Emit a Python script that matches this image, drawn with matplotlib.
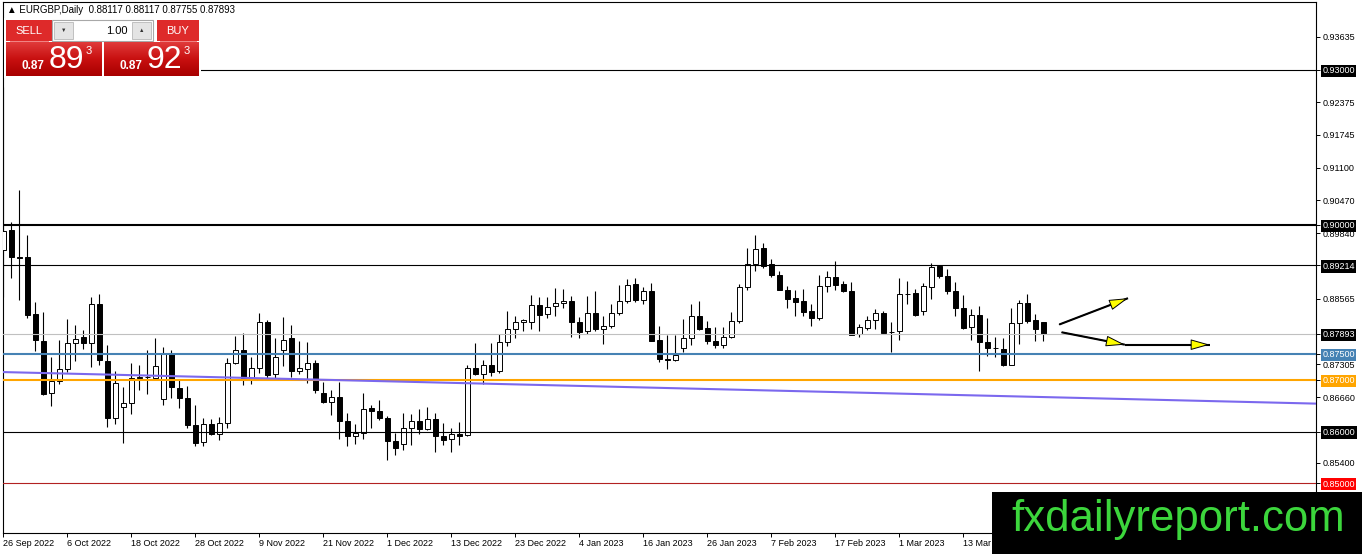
import numpy as np
import matplotlib.pyplot as plt
from matplotlib.patches import Rectangle, FancyArrowPatch
from matplotlib.colors import LinearSegmentedColormap

plt.rcParams['font.family'] = ['Liberation Sans', 'DejaVu Sans']

# daily candles EURGBP, 26 Sep 2022 .. late Mar 2023
opens = [0.8951, 0.8989, 0.8938, 0.8937, 0.8828, 0.8775, 0.8675, 0.8698, 0.8720, 0.8771,
         0.8783, 0.8771, 0.8846, 0.8737, 0.8627, 0.8648, 0.8656, 0.8704, 0.8705, 0.8704,
         0.8662, 0.8751, 0.8685, 0.8665, 0.8613, 0.8580, 0.8614, 0.8596, 0.8617, 0.8733,
         0.8758, 0.8704, 0.8722, 0.8812, 0.8711, 0.8758, 0.8781, 0.8717, 0.8721, 0.8733,
         0.8675, 0.8658, 0.8666, 0.8621, 0.8592, 0.8598, 0.8645, 0.8640, 0.8627, 0.8582,
         0.8576, 0.8607, 0.8621, 0.8605, 0.8625, 0.8592, 0.8585, 0.8596, 0.8594, 0.8723,
         0.8711, 0.8728, 0.8717, 0.8773, 0.8798, 0.8812, 0.8812, 0.8845, 0.8828, 0.8843,
         0.8848, 0.8852, 0.8812, 0.8794, 0.8830, 0.8799, 0.8805, 0.8829, 0.8853, 0.8886,
         0.8855, 0.8871, 0.8778, 0.8740, 0.8738, 0.8762, 0.8781, 0.8824, 0.8800, 0.8776,
         0.8768, 0.8783, 0.8814, 0.8879, 0.8924, 0.8956, 0.8924, 0.8903, 0.8874, 0.8859,
         0.8852, 0.8834, 0.8819, 0.8881, 0.8898, 0.8886, 0.8871, 0.8788, 0.8801, 0.8816,
         0.8830, 0.8793, 0.8794, 0.8866, 0.8868, 0.8834, 0.8879, 0.8920, 0.8900, 0.8871,
         0.8839, 0.8802, 0.8826, 0.8773, 0.8762, 0.8760, 0.8729, 0.8810, 0.8849, 0.8815,
         0.88117]
highs = [0.9267, 0.9006, 0.9067, 0.8980, 0.8850, 0.8831, 0.8744, 0.8778, 0.8818, 0.8807,
         0.8796, 0.8860, 0.8866, 0.8767, 0.8717, 0.8686, 0.8732, 0.8729, 0.8758, 0.8781,
         0.8764, 0.8758, 0.8700, 0.8688, 0.8651, 0.8627, 0.8624, 0.8629, 0.8742, 0.8785,
         0.8791, 0.8744, 0.8830, 0.8816, 0.8780, 0.8821, 0.8807, 0.8775, 0.8773, 0.8739,
         0.8696, 0.8681, 0.8696, 0.8635, 0.8614, 0.8675, 0.8652, 0.8660, 0.8630, 0.8598,
         0.8635, 0.8633, 0.8643, 0.8647, 0.8636, 0.8616, 0.8606, 0.8618, 0.8729, 0.8772,
         0.8738, 0.8771, 0.8789, 0.8834, 0.8823, 0.8818, 0.8864, 0.8860, 0.8860, 0.8877,
         0.8876, 0.8862, 0.8821, 0.8862, 0.8871, 0.8823, 0.8847, 0.8884, 0.8895, 0.8897,
         0.8879, 0.8887, 0.8805, 0.8787, 0.8787, 0.8817, 0.8847, 0.8852, 0.8814, 0.8803,
         0.8802, 0.8831, 0.8886, 0.8956, 0.8980, 0.8965, 0.8934, 0.8910, 0.8881, 0.8873,
         0.8876, 0.8847, 0.8903, 0.8911, 0.8930, 0.8892, 0.8889, 0.8808, 0.8823, 0.8837,
         0.8834, 0.8812, 0.8897, 0.8892, 0.8876, 0.8887, 0.8926, 0.8923, 0.8914, 0.8890,
         0.8864, 0.8837, 0.8843, 0.8819, 0.8783, 0.8780, 0.8839, 0.8855, 0.8866, 0.8828,
         0.88117]
lows = [0.8860, 0.8897, 0.8855, 0.8819, 0.8755, 0.8670, 0.8649, 0.8691, 0.8715, 0.8736,
        0.8760, 0.8725, 0.8728, 0.8609, 0.8614, 0.8577, 0.8633, 0.8680, 0.8672, 0.8700,
        0.8651, 0.8665, 0.8645, 0.8606, 0.8571, 0.8571, 0.8594, 0.8584, 0.8606, 0.8731,
        0.8690, 0.8691, 0.8714, 0.8704, 0.8704, 0.8727, 0.8706, 0.8712, 0.8693, 0.8675,
        0.8656, 0.8631, 0.8586, 0.8571, 0.8576, 0.8586, 0.8607, 0.8622, 0.8545, 0.8555,
        0.8564, 0.8574, 0.8596, 0.8603, 0.8561, 0.8573, 0.8561, 0.8574, 0.8592, 0.8709,
        0.8691, 0.8708, 0.8714, 0.8766, 0.8781, 0.8794, 0.8799, 0.8794, 0.8819, 0.8823,
        0.8839, 0.8783, 0.8781, 0.8788, 0.8794, 0.8770, 0.8801, 0.8826, 0.8849, 0.8850,
        0.8847, 0.8776, 0.8735, 0.8720, 0.8737, 0.8753, 0.8768, 0.8797, 0.8770, 0.8762,
        0.8762, 0.8780, 0.8810, 0.8873, 0.8911, 0.8916, 0.8898, 0.8873, 0.8839, 0.8823,
        0.8823, 0.8804, 0.8815, 0.8870, 0.8873, 0.8870, 0.8786, 0.8783, 0.8796, 0.8799,
        0.8789, 0.8753, 0.8778, 0.8846, 0.8824, 0.8826, 0.8857, 0.8897, 0.8866, 0.8823,
        0.8798, 0.8778, 0.8717, 0.8746, 0.8744, 0.8727, 0.8728, 0.8770, 0.8810, 0.8776,
        0.87755]
closes = [0.8988, 0.8938, 0.8936, 0.8826, 0.8778, 0.8672, 0.8698, 0.8720, 0.8771, 0.8779,
          0.8771, 0.8846, 0.8738, 0.8627, 0.8694, 0.8656, 0.8704, 0.8706, 0.8706, 0.8727,
          0.8751, 0.8686, 0.8665, 0.8613, 0.8578, 0.8614, 0.8596, 0.8617, 0.8733, 0.8758,
          0.8704, 0.8723, 0.8812, 0.8709, 0.8744, 0.8778, 0.8717, 0.8722, 0.8733, 0.8680,
          0.8658, 0.8666, 0.8620, 0.8592, 0.8598, 0.8643, 0.8640, 0.8627, 0.8582, 0.8569,
          0.8607, 0.8621, 0.8605, 0.8625, 0.8592, 0.8584, 0.8596, 0.8592, 0.8723, 0.8711,
          0.8728, 0.8715, 0.8773, 0.8798, 0.8812, 0.8815, 0.8845, 0.8826, 0.8841, 0.8849,
          0.8852, 0.8812, 0.8792, 0.8829, 0.8799, 0.8805, 0.8829, 0.8853, 0.8884, 0.8855,
          0.8871, 0.8776, 0.8740, 0.8739, 0.8749, 0.8781, 0.8824, 0.8799, 0.8775, 0.8768,
          0.8783, 0.8814, 0.8879, 0.8924, 0.8954, 0.8921, 0.8902, 0.8873, 0.8857, 0.8850,
          0.8832, 0.8819, 0.8881, 0.8898, 0.8884, 0.8871, 0.8787, 0.8802, 0.8816, 0.8829,
          0.8791, 0.8792, 0.8866, 0.8867, 0.8826, 0.8881, 0.8918, 0.8900, 0.8871, 0.8839,
          0.8801, 0.8826, 0.8773, 0.8762, 0.8761, 0.8729, 0.8810, 0.8849, 0.8813, 0.8798,
          0.87893]

date_idx = [0, 8, 16, 24, 32, 40, 48, 56, 64, 72, 80, 88, 96, 104, 112, 120]
date_labels = ['26 Sep 2022', '6 Oct 2022', '18 Oct 2022', '28 Oct 2022', '9 Nov 2022',
               '21 Nov 2022', '1 Dec 2022', '13 Dec 2022', '23 Dec 2022', '4 Jan 2023',
               '16 Jan 2023', '26 Jan 2023', '7 Feb 2023', '17 Feb 2023', '1 Mar 2023',
               '13 Mar 2023']

price_ticks = [0.93635, 0.93000, 0.92375, 0.91745, 0.91100, 0.90470, 0.90000, 0.89840,
               0.89214, 0.88565, 0.87893, 0.87500, 0.87305, 0.87000, 0.86660, 0.86000,
               0.85400, 0.85000]

# horizontal levels
thin_levels = [0.93000, 0.89214, 0.86000]
thick_level = 0.90000
bid = 0.87893
blue_level = 0.87500
orange_level = 0.87000
red_level = 0.85000
# sloping trend line (bar index, price)
trend_x = [0, 164]
trend_y = [0.8715, 0.8654]
# forecast arrows (bar index pairs, price pairs)
arrow_x = [[132.0, 140.6], [132.3, 140.2], [140.2, 150.8]]
arrow_y = [[0.8807, 0.8858], [0.8792, 0.8768], [0.8768, 0.8768]]

sell_price = ('0.87', '89', '3')
buy_price = ('0.87', '92', '3')
lot = '1.00'

W, H = 1362, 554
fig = plt.figure(figsize=(W / 100, H / 100), dpi=100)
fig.patch.set_facecolor('white')
ax = fig.add_axes([3 / W, 21 / H, 1313 / W, 531 / H])

o = np.array(opens)
c = np.array(closes)
x = np.arange(len(o))
up = c >= o
body_lo = np.minimum(o, c)
body_h = np.maximum(np.abs(c - o), 0.00003)

ax.vlines(x, lows, highs, color='black', linewidth=0.8, zorder=2)
ax.bar(x, body_h, bottom=body_lo, width=0.66,
       color=np.where(up, 'white', 'black'), edgecolor='black', linewidth=0.7, zorder=3)

# levels
for lv in thin_levels:
    ax.axhline(lv, color='black', linewidth=0.8, zorder=4)
ax.axhline(thick_level, color='black', linewidth=1.5, zorder=4)
ax.axhline(bid, color='#c0c0c0', linewidth=0.8, zorder=4)
ax.axhline(blue_level, color='#4682b4', linewidth=1.5, zorder=4)
ax.axhline(orange_level, color='#ffa500', linewidth=1.5, zorder=4)
ax.axhline(red_level, color='#b22222', linewidth=0.8, zorder=4)
ax.plot(trend_x, trend_y, color='#7b68ee', linewidth=1.5, zorder=4)

for xs, ys in zip(arrow_x, arrow_y):
    ax.plot(xs, ys, color='black', linewidth=1.5, zorder=5, solid_capstyle='butt')
    ar = FancyArrowPatch((xs[0], ys[0]), (xs[1], ys[1]),
                         arrowstyle='-|>,head_length=12,head_width=3.4', mutation_scale=1,
                         facecolor='#ffff00', edgecolor='black', linewidth=0.7,
                         shrinkA=0, shrinkB=0, zorder=6)
    ax.add_patch(ar)

ax.set_xlim(-0.04, 164.1)
ax.set_ylim(0.84036, 0.94311)

for sp in ax.spines.values():
    sp.set_color('black')
    sp.set_linewidth(0.8)

ax.set_xticks(date_idx, date_labels)
for lab in ax.get_xticklabels():
    lab.set_horizontalalignment('left')
ax.tick_params(axis='x', length=3, width=0.7, pad=1, labelsize=6.5, direction='out')

ax.yaxis.tick_right()
ax.set_yticks(price_ticks, [f'{p:.5f}' for p in price_ticks])
ax.tick_params(axis='y', length=3, width=0.7, pad=1.5, labelsize=6.5, direction='out')
boxed = {0.93000: 'black', 0.90000: 'black', 0.89214: 'black', 0.87893: 'black',
         0.86000: 'black', 0.87500: '#4682b4', 0.87000: '#ffa500', 0.85000: '#ff0000'}
for p, lab in zip(price_ticks, ax.get_yticklabels()):
    if p in boxed:
        lab.set_color('white')
        lab.set_bbox(dict(facecolor=boxed[p], edgecolor='none', pad=1.2))

# overlay in pixel coordinates: trade panel, header, watermark
ov = fig.add_axes([0, 0, 1, 1], zorder=10)
ov.axis('off')

red_cmap = LinearSegmentedColormap.from_list('redbox', ['#e03a3a', '#c81010', '#a80000'])
grad = np.linspace(0, 1, 60).reshape(-1, 1)

ov.add_patch(Rectangle((4, 18), 197, 60, facecolor='white', edgecolor='none', zorder=1))
# sell / buy buttons
ov.add_patch(Rectangle((6, 20), 46, 21, facecolor='#de2a2a', edgecolor='none', zorder=2))
ov.add_patch(Rectangle((157, 20), 42, 21, facecolor='#de2a2a', edgecolor='none', zorder=2))
ov.plot([10, 48], [40.5, 40.5], color='#f08080', linewidth=0.7, zorder=3)
ov.plot([160, 196], [40.5, 40.5], color='#f08080', linewidth=0.7, zorder=3)
ov.text(29, 31, 'SELL', color='white', fontsize=8, ha='center', va='center', zorder=4)
ov.text(178, 31, 'BUY', color='white', fontsize=8, ha='center', va='center', zorder=4)
# lot spinner
ov.add_patch(Rectangle((52, 20), 101, 21, facecolor='white', edgecolor='#a8a8a8',
                       linewidth=0.8, zorder=2))
ov.add_patch(Rectangle((54, 22), 19, 17, facecolor='#e4e4e4', edgecolor='#b8b8b8',
                       linewidth=0.6, zorder=3))
ov.add_patch(Rectangle((132, 22), 19, 17, facecolor='#e4e4e4', edgecolor='#b8b8b8',
                       linewidth=0.6, zorder=3))
ov.text(63.5, 30.5, '▼', fontsize=4, color='#333333', ha='center', va='center', zorder=4)
ov.text(141.5, 30.5, '▲', fontsize=4, color='#333333', ha='center', va='center', zorder=4)
ov.text(128, 30.5, lot, fontsize=8, color='black', ha='right', va='center', zorder=4)
# price boxes
for (x0, x1), (big0, big1, small) in zip([(6, 102), (104, 199)], [sell_price, buy_price]):
    ov.imshow(grad, extent=[x0, x1, 76, 42], cmap=red_cmap, aspect='auto', zorder=2)
    ov.text(x0 + 15, 66, big0, fontsize=8.5, fontweight='bold', color='white',
            ha='left', va='center', zorder=4)
    ov.text(x0 + 43, 59.5, big1, fontsize=23, color='white', ha='left', va='center', zorder=4)
    ov.text(x0 + 80, 51, small, fontsize=8, color='white', ha='left', va='center', zorder=4)

ov.text(7, 10, f'▲ EURGBP,Daily  {opens[-1]:.5f} {highs[-1]:.5f} {lows[-1]:.5f} {closes[-1]:.5f}',
        fontsize=7, color='black', ha='left', va='center', zorder=4)

# watermark
ov.add_patch(Rectangle((992, 492), 370, 62, facecolor='black', edgecolor='none', zorder=5))
ov.text(1178, 520, 'fxdailyreport.com', fontsize=31.5, color='#3cd63c',
        ha='center', va='center', zorder=6)

ov.set_xlim(0, W)
ov.set_ylim(H, 0)

fig.savefig('out.png', dpi=100)
